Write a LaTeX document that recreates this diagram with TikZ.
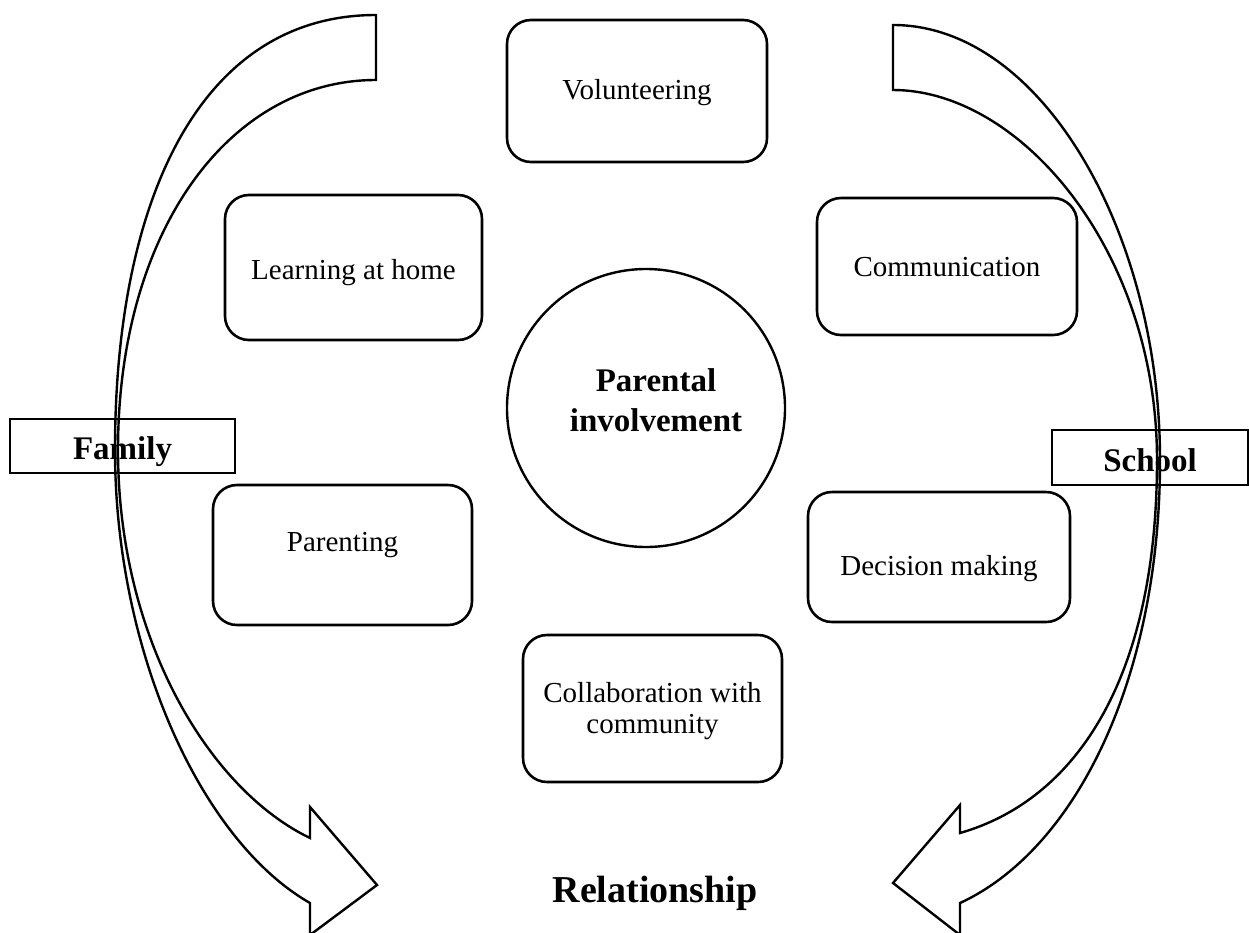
\documentclass[tikz,border=0pt]{standalone}
\usepackage{fontspec}
\setmainfont{Liberation Serif}
\newcommand\myBody{\fontsize{29}{31}\selectfont}
\newcommand\myBold{\fontsize{33}{40}\selectfont\bfseries}
\newcommand\myBig{\fontsize{38}{44}\selectfont\bfseries}
\begin{document}
\begin{tikzpicture}[x=1pt,y=-1pt,
  rbox/.style={draw, line width=2.6pt, rounded corners=24pt, inner sep=0pt},
  sqbox/.style={draw, line width=2.8pt, inner sep=0pt},
  hub/.style={draw, circle, line width=2.4pt, inner sep=0pt, minimum size=278pt},
  txt/.style={inner sep=0pt, align=center, font=\myBody},
  btxt/.style={inner sep=0pt, align=center, font=\myBold},
  bigarrow/.style={draw, line width=2.4pt, line join=miter}]
\useasboundingbox (0,0) rectangle (1249,932);
\clip (0,0) rectangle (1249,932);

% central circle
\node[hub] (pi) at (646,408) {};
\node[btxt] (pit) at ([xshift=10pt,yshift=8pt]pi.center) {Parental\\involvement};

% activity boxes
\node[rbox, minimum width=260pt, minimum height=142pt] (vol) at (637,91) {};
\node[txt] (volt) at ([yshift=-2pt]vol.center) {Volunteering};
\node[rbox, minimum width=257pt, minimum height=145pt] (learn) at (353.5,267.5) {};
\node[txt] (learnt) at ([yshift=-5pt]learn.center) {Learning at home};
\node[rbox, minimum width=260pt, minimum height=137pt] (comm) at (947,266.5) {};
\node[txt] (commt) at ([yshift=-1pt]comm.center) {Communication};
\node[rbox, minimum width=259pt, minimum height=140pt] (par) at (342.5,555) {};
\node[txt] (part) at ([yshift=10pt]par.center) {Parenting};
\node[rbox, minimum width=262pt, minimum height=130pt] (dec) at (939,557) {};
\node[txt] (dect) at ([yshift=-12pt]dec.center) {Decision making};
\node[rbox, minimum width=259pt, minimum height=147pt] (col) at (652.5,708.5) {};
\node[txt] (colt) at ([yshift=-2.5pt]col.center) {Collaboration with\\community};

% side labels
\node[sqbox, minimum width=225pt, minimum height=54pt] (fam) at (122.5,446) {};
\node[btxt] (famt) at ([yshift=-6pt]fam.center) {Family};
\node[sqbox, minimum width=196pt, minimum height=55pt] (sch) at (1150,457.5) {};
\node[btxt] (scht) at ([yshift=-3pt]sch.center) {School};

% bottom label
\node[font=\myBig] (rel) at (655,893) {Relationship};

% left curved arrow (family)
\path[bigarrow] (376,15) -- (376,80)
  .. controls (230,80) and (118,230) .. (118,450)
  .. controls (118,640) and (210,790) .. (310,838)
  -- (310,807) -- (377,885) -- (310,935) -- (310,903)
  .. controls (200,840) and (115,650) .. (115,450)
  .. controls (115,200) and (200,15) .. cycle;

% right curved arrow (school)
\path[bigarrow] (893,25) -- (893,90)
  .. controls (1020,90) and (1157,250) .. (1157,460)
  .. controls (1157,680) and (1075,800) .. (960,833)
  -- (960,805) -- (893,883) -- (960,935) -- (960,903)
  .. controls (1075,850) and (1160,680) .. (1160,460)
  .. controls (1160,230) and (1040,25) .. cycle;
\end{tikzpicture}
\end{document}
